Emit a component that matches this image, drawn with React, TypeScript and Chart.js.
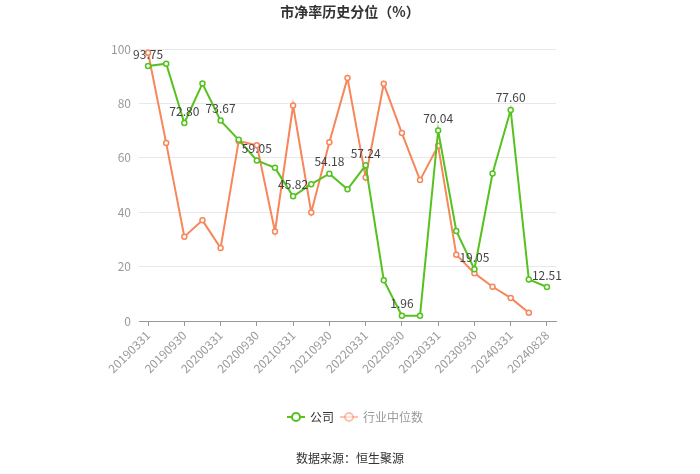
import React, { useEffect, useRef } from "react";
import { Chart, registerables } from "chart.js";

Chart.register(...registerables);

const categories = [
  "20190331", "20190630", "20190930", "20191231",
  "20200331", "20200630", "20200930", "20201231",
  "20210331", "20210630", "20210930", "20211231",
  "20220331", "20220630", "20220930", "20221231",
  "20230331", "20230630", "20230930", "20231231",
  "20240331", "20240630", "20240828",
];

const companyValues = [
  93.75, 94.6, 72.8, 87.3, 73.67, 66.6, 59.05, 56.3,
  45.82, 50.3, 54.18, 48.4, 57.24, 15.0, 1.96, 1.96,
  70.04, 33.1, 19.05, 54.2, 77.6, 15.3, 12.51,
];

const industryValues: (number | null)[] = [
  98.6, 65.4, 31.0, 37.0, 26.8, 66.2, 64.6, 32.9,
  79.2, 39.9, 65.7, 89.3, 52.8, 87.2, 69.1, 51.8,
  64.4, 24.4, 17.6, 12.6, 8.5, 3.0, null,
];

const yTicks = [0, 20, 40, 60, 80, 100];

const labeledIndices = [0, 2, 4, 6, 8, 10, 12, 14, 16, 18, 20, 22];

const GREEN = "#55c21f";
const ORANGE = "#f7865a";
const FONT = "'Noto Sans CJK SC', 'Noto Sans', sans-serif";

const decorPlugin = {
  id: "decor",
  afterDatasetsDraw(chart: any) {
    const ctx = chart.ctx;
    const meta = chart.getDatasetMeta(0);
    ctx.save();
    ctx.font = `12px ${FONT}`;
    ctx.fillStyle = "#444";
    ctx.textAlign = "center";
    ctx.textBaseline = "bottom";
    labeledIndices.forEach((i) => {
      const el = meta.data[i];
      if (!el) return;
      ctx.fillText(companyValues[i].toFixed(2), el.x, el.y - 6);
    });
    ctx.restore();
  },
  afterDraw(chart: any) {
    const ctx = chart.ctx;
    ctx.save();
    ctx.font = `bold 14px ${FONT}`;
    ctx.fillStyle = "#333";
    ctx.textAlign = "center";
    ctx.textBaseline = "middle";
    ctx.fillText("市净率历史分位（%）", 350, 12);

    const ly = 417;
    const drawIcon = (cx: number, color: string, alpha: number) => {
      ctx.globalAlpha = alpha;
      ctx.strokeStyle = color;
      ctx.lineWidth = 2;
      ctx.beginPath();
      ctx.moveTo(cx - 9, ly);
      ctx.lineTo(cx + 9, ly);
      ctx.stroke();
      ctx.beginPath();
      ctx.arc(cx, ly, 4, 0, Math.PI * 2);
      ctx.fillStyle = "#fff";
      ctx.fill();
      ctx.stroke();
      ctx.globalAlpha = 1;
    };
    drawIcon(296, GREEN, 1);
    ctx.font = `12px ${FONT}`;
    ctx.textAlign = "left";
    ctx.fillStyle = "#333";
    ctx.fillText("公司", 310, ly);
    drawIcon(349, ORANGE, 0.5);
    ctx.fillStyle = "#999";
    ctx.fillText("行业中位数", 363, ly);

    ctx.font = `12px ${FONT}`;
    ctx.fillStyle = "#333";
    ctx.textAlign = "center";
    ctx.fillText("数据来源：恒生聚源", 350, 458);
    ctx.restore();
  },
};

export default function App() {
  const canvasRef = useRef<HTMLCanvasElement | null>(null);

  useEffect(() => {
    if (!canvasRef.current) return;
    const chart = new Chart(canvasRef.current, {
      type: "line",
      data: {
        labels: categories,
        datasets: [
          {
            label: "公司",
            data: companyValues,
            borderColor: GREEN,
            backgroundColor: "#fff",
            borderWidth: 2,
            pointRadius: 2.5,
            pointBorderWidth: 1.5,
            pointBackgroundColor: "#fff",
            pointBorderColor: GREEN,
            tension: 0,
          },
          {
            label: "行业中位数",
            data: industryValues,
            borderColor: ORANGE,
            backgroundColor: "#fff",
            borderWidth: 2,
            pointRadius: 2.5,
            pointBorderWidth: 1.5,
            pointBackgroundColor: "#fff",
            pointBorderColor: ORANGE,
            tension: 0,
          },
        ],
      },
      options: {
        responsive: false,
        animation: false,
        layout: { padding: { left: 0, right: 144, top: 49, bottom: 93 } },
        plugins: {
          legend: { display: false },
          title: { display: false },
          tooltip: { enabled: false },
        },
        scales: {
          x: {
            type: "category",
            offset: true,
            grid: {
              drawOnChartArea: false,
              drawTicks: true,
              tickLength: 5,
              color: "#999",
            },
            border: { display: true, color: "#999", width: 1 },
            ticks: {
              autoSkip: false,
              maxRotation: 45,
              minRotation: 45,
              padding: 2,
              color: "#999",
              font: { size: 12, family: FONT },
              callback: function (_v: any, i: number) {
                return labeledIndices.includes(i) ? categories[i] : null;
              },
            },
            afterFit(scale: any) {
              scale.height = 60;
            },
          },
          y: {
            min: 0,
            max: 100,
            afterBuildTicks(scale: any) {
              scale.ticks = yTicks.map((v) => ({ value: v }));
            },
            grid: { color: "#e8e8e8", drawTicks: false },
            border: { display: false },
            ticks: {
              padding: 8,
              color: "#999",
              font: { size: 12, family: FONT },
            },
            afterFit(scale: any) {
              scale.width = 139;
            },
          },
        },
      },
      plugins: [decorPlugin],
    } as any);
    return () => chart.destroy();
  }, []);

  return (
    <div style={{ position: "fixed", left: 0, top: 0, width: 700, height: 474, background: "#fff" }}>
      <canvas ref={canvasRef} width={700} height={474} style={{ width: 700, height: 474 }} />
    </div>
  );
}
